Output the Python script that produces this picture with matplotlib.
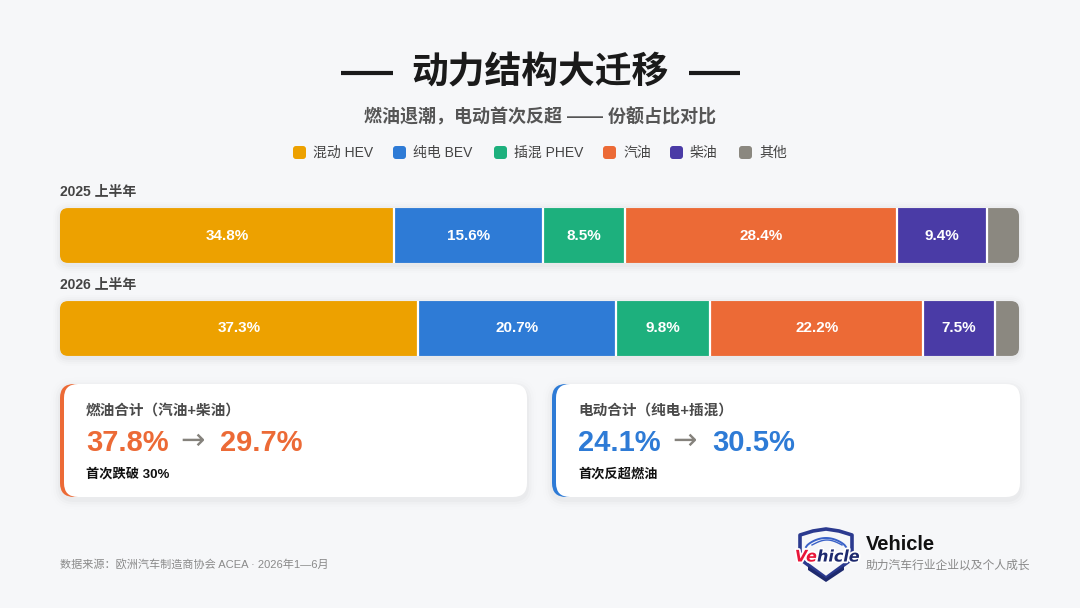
import matplotlib
matplotlib.use('Agg')
import matplotlib.pyplot as plt
from matplotlib.patches import FancyBboxPatch, Polygon
from matplotlib.transforms import IdentityTransform
import matplotlib.patheffects as pe
import numpy as np

plt.rcParams['font.family'] = ['Liberation Sans', 'Noto Sans CJK SC', 'DejaVu Sans']
CJK = ['Noto Sans CJK SC', 'DejaVu Sans']

# ---------------- data ----------------
categories = ['混动 HEV', '纯电 BEV', '插混 PHEV', '汽油', '柴油', '其他']
colors = ['#EDA100', '#2E7BD6', '#1DB07D', '#EC6A36', '#4A3BA6', '#8B8880']
periods = ['2025 上半年', '2026 上半年']
share_2025 = [34.8, 15.6, 8.5, 28.4, 9.4, 3.3]
share_2026 = [37.3, 20.7, 9.8, 22.2, 7.5, 2.5]
title = '动力结构大迁移'
subtitle = '燃油退潮，电动首次反超 —— 份额占比对比'
card_titles = ['燃油合计（汽油+柴油）', '电动合计（纯电+插混）']
card_notes = ['首次跌破 30%', '首次反超燃油']
source = '数据来源：欧洲汽车制造商协会 ACEA · 2026年1—6月'
brand = 'Vehicle'
slogan = '助力汽车行业企业以及个人成长'

W, H = 1080, 608
BG = '#F6F7F9'
fig = plt.figure(figsize=(W / 100, H / 100), dpi=100)
fig.patch.set_facecolor(BG)
bg = fig.add_axes([0, 0, 1, 1])
bg.set_xlim(0, W)
bg.set_ylim(H, 0)
bg.axis('off')

# ---------------- title ----------------
bg.text(540, 73, title, ha='center', va='center', fontsize=26.5,
        fontweight='bold', color='#1a1a1a', family=CJK)
bg.plot([341, 393], [73, 73], color='#1a1a1a', lw=3, solid_capstyle='butt')
bg.plot([689, 740], [73, 73], color='#1a1a1a', lw=3, solid_capstyle='butt')
bg.text(540, 117, subtitle, ha='center', va='center', fontsize=13,
        fontweight='bold', color='#555555')

# ---------------- legend ----------------
legend_x = [293, 393, 494, 603, 670, 739]
for lx, lab, c in zip(legend_x, categories, colors):
    bg.add_patch(FancyBboxPatch((lx, 146), 13, 13,
                                boxstyle='round,pad=0,rounding_size=3',
                                facecolor=c, edgecolor='none'))
    bg.text(lx + 20, 152.5, lab, ha='left', va='center', fontsize=10,
            color='#444444')

# ---------------- bars ----------------
bx0, bx1 = 60, 1019
ytop, ybot = 189, 375
ax = fig.add_axes([bx0 / W, 1 - ybot / H, (bx1 - bx0) / W, (ybot - ytop) / H])
ax.set_xlim(0, 100)
ax.set_ylim(1.5, -0.5)
ax.axis('off')
ax.patch.set_alpha(0)

bar_h = 0.59
for i, shares in enumerate([share_2025, share_2026]):
    shares = np.array(shares)
    lefts = np.concatenate([[0], np.cumsum(shares)[:-1]])
    (dx0, dy0) = ax.transData.transform((0, i + bar_h / 2))
    (dx1, dy1) = ax.transData.transform((shares.sum(), i - bar_h / 2))
    # shadow
    for k, a in enumerate([0.018, 0.014, 0.010, 0.006]):
        g = 2 + k * 2
        ax.add_patch(FancyBboxPatch((dx0 - g + 1, dy0 - g - 2), dx1 - dx0 + 2 * g - 2,
                                    dy1 - dy0 + 2 * g,
                                    boxstyle='round,pad=0,rounding_size=%d' % (8 + g),
                                    transform=IdentityTransform(), facecolor='black',
                                    edgecolor='none', alpha=a, clip_on=False, zorder=0))
    clip = FancyBboxPatch((dx0, dy0), dx1 - dx0, dy1 - dy0,
                          boxstyle='round,pad=0,rounding_size=8',
                          transform=IdentityTransform(), facecolor='none', edgecolor='none')
    bars = ax.barh(i, shares, left=lefts, height=bar_h, color=colors,
                   edgecolor='none', zorder=2)
    for b in bars:
        b.set_clip_path(clip)
    ax.vlines(np.cumsum(shares)[:-1], i - bar_h / 2, i + bar_h / 2,
              color='white', lw=1.6, zorder=3)
    for l, s in zip(lefts, shares):
        if s >= 5:
            ax.text(l + s / 2, i, f'{s:.1f}%', ha='center', va='center',
                    color='white', fontsize=11, fontweight='bold', zorder=4)
    ax.text(0, i - bar_h / 2 - 0.17, periods[i], ha='left', va='center',
            fontsize=10, fontweight='bold', color='#444444', clip_on=False)

# ---------------- cards ----------------
fuel = [share_2025[3] + share_2025[4], share_2026[3] + share_2026[4]]
elec = [share_2025[1] + share_2025[2], share_2026[1] + share_2026[2]]
cards = [(60, 467, colors[3], fuel), (552, 468, colors[1], elec)]
cy, ch = 384, 113
for (cx, cw, acc, vals), ct, cn in zip(cards, card_titles, card_notes):
    for k, a in enumerate([0.020, 0.014, 0.009, 0.005]):
        g = 2 + k * 2.5
        bg.add_patch(FancyBboxPatch((cx - g, cy - g + 3), cw + 2 * g, ch + 2 * g,
                                    boxstyle='round,pad=0,rounding_size=%g' % (14 + g),
                                    facecolor='black', edgecolor='none', alpha=a))
    bg.add_patch(FancyBboxPatch((cx, cy), 40, ch,
                                boxstyle='round,pad=0,rounding_size=14',
                                facecolor=acc, edgecolor='none'))
    bg.add_patch(FancyBboxPatch((cx + 4, cy), cw - 4, ch,
                                boxstyle='round,pad=0,rounding_size=14',
                                facecolor='white', edgecolor='none'))
    tx = cx + 26
    bg.text(tx, 411, ct, ha='left', va='center', fontsize=10.5,
            fontweight='bold', color='#4a4a4a')
    bg.text(tx, 443, f'{vals[0]:.1f}%', ha='left', va='center', fontsize=21,
            fontweight='bold', color=acc)
    bg.text(tx + 106, 441, '→', ha='center', va='center', fontsize=21,
            color='#85827c', family=['DejaVu Sans'])
    bg.text(tx + 134, 443, f'{vals[1]:.1f}%', ha='left', va='center', fontsize=21,
            fontweight='bold', color=acc)
    bg.text(tx, 474, cn, ha='left', va='center', fontsize=9.5,
            fontweight='bold', color='#111111')

# ---------------- footer ----------------
bg.text(60, 564, source, ha='left', va='center', fontsize=8, color='#8a8a8a')

# logo shield
shield = [(800, 535), (813, 531), (826, 529), (839, 531), (852, 535),
          (852, 559), (826, 578), (800, 559)]
bg.add_patch(Polygon(shield, closed=True, facecolor='none', edgecolor='#2b3a8f', lw=2.6,
                     joinstyle='round'))
bg.add_patch(Polygon([(808, 566), (826, 578), (844, 566), (844, 570), (826, 582), (808, 570)],
                     closed=True, facecolor='#1e2a6e', edgecolor='none'))
tt = np.linspace(0, 1, 30)
bg.plot(806 + 40 * tt, 547 - 9 * np.sin(np.pi * tt) ** 0.7, color='#3a62c8', lw=1.4)
bg.plot(812 + 30 * tt, 545 - 5 * np.sin(np.pi * tt), color='#3a62c8', lw=1.0)
stroke = [pe.withStroke(linewidth=2.5, foreground='white')]
bg.text(817, 557, 'Ve', ha='right', va='center', fontsize=11.5, fontweight='bold',
        style='italic', color='#E8173A', family=['DejaVu Sans'], path_effects=stroke)
bg.text(817, 557, 'hicle', ha='left', va='center', fontsize=11.5, fontweight='bold',
        style='italic', color='#1e2a6e', family=['DejaVu Sans'], path_effects=stroke)
bg.text(866, 545, brand, ha='left', va='center', fontsize=14.5, fontweight='bold',
        color='#111111')
bg.text(866, 566, slogan, ha='left', va='center', fontsize=8.5, color='#888888')

fig.savefig('out.png', dpi=100, facecolor=BG)
